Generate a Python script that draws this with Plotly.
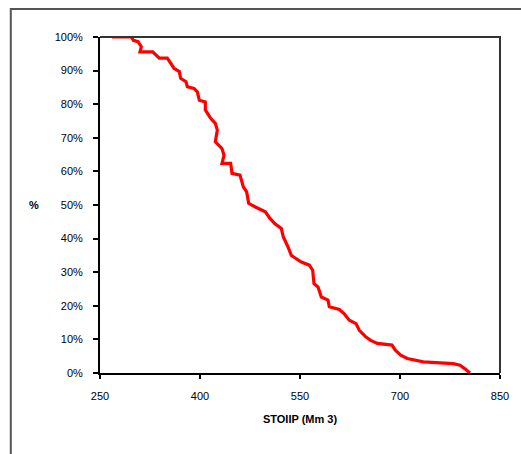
import plotly.graph_objects as go

# STOIIP (Mm3) values and cumulative exceedance probability (%)
stoiip = [268, 297, 300, 307, 312, 310, 329, 334, 339, 351, 356, 361, 369, 371, 379, 381,
          391, 396, 399, 408, 408, 416, 423, 426, 423, 433, 436, 433, 446, 448, 460, 465,
          470, 473, 483, 498, 505, 512, 522, 525, 532, 537, 540, 552, 564, 569, 571, 577,
          582, 592, 594, 609, 616, 624, 634, 639, 649, 656, 666, 688, 693, 701, 711, 725,
          735, 780, 790, 797, 805]
percent = [100, 100, 99, 98.6, 97.1, 95.6, 95.6, 94.6, 93.7, 93.7, 92.2, 90.7, 89.7, 87.7,
           86.7, 85.2, 84.7, 83.7, 81.2, 80.7, 78.3, 75.8, 74.3, 72.3, 68.8, 66.8, 64.8,
           62.4, 62.4, 59.4, 58.9, 55.4, 53.9, 50.5, 49.4, 48, 46, 44.5, 43, 40.5, 37.5,
           35, 34.6, 33, 32.1, 30.6, 26.6, 25.6, 22.6, 21.7, 19.7, 18.9, 17.7, 15.7, 14.7,
           12.7, 10.7, 9.7, 8.8, 8.3, 6.8, 5.3, 4.3, 3.8, 3.3, 2.8, 2.3, 1.3, 0]

x_ticks = [250, 400, 550, 700, 850]
x_tick_labels = ["250", "400", "550", "700", "850"]
y_ticks = [0, 10, 20, 30, 40, 50, 60, 70, 80, 90, 100]
y_tick_labels = [f"{v}%" for v in y_ticks]

FONT = "Liberation Sans, Arial, sans-serif"

fig = go.Figure()
fig.add_trace(go.Scatter(
    x=stoiip, y=percent, mode="lines",
    line=dict(color="#ff0000", width=3.2, shape="linear"),
    showlegend=False, hoverinfo="skip", cliponaxis=True,
))

fig.update_layout(
    width=521, height=454,
    margin=dict(l=100, r=17, t=37, b=81, pad=0),
    paper_bgcolor="white", plot_bgcolor="white",
    font=dict(family=FONT, size=11, color="black"),
    xaxis=dict(
        range=[250, 850], tickvals=x_ticks, ticktext=x_tick_labels,
        showgrid=False, zeroline=False, showline=True, linecolor="black", linewidth=2,
        ticks="outside", ticklen=4, tickwidth=2, tickcolor="black",
        ticklabelstandoff=8,
        tickfont=dict(family=FONT, size=11, color="black"),
        title=dict(text="<b>STOIIP (Mm 3)</b>", standoff=14,
                   font=dict(family=FONT, size=11, color="black")),
    ),
    yaxis=dict(
        range=[0, 100], tickvals=y_ticks, ticktext=y_tick_labels,
        showgrid=False, zeroline=False, showline=True, linecolor="black", linewidth=2,
        ticks="outside", ticklen=5, tickwidth=2, tickcolor="black",
        ticklabelstandoff=8,
        tickfont=dict(family=FONT, size=11, color="black"),
    ),
)

# y-axis title drawn horizontally
fig.add_annotation(text="<b>%</b>", xref="paper", yref="paper", x=-0.165, y=0.5,
                   showarrow=False, xanchor="center", yanchor="middle",
                   font=dict(family=FONT, size=11, color="black"))

# top and right edges of plot area
fig.add_shape(type="path", xref="paper", yref="paper",
              path="M 0,1 L 1,1 L 1,0", line=dict(color="#333333", width=2), layer="above")

# outer chart frame (only left and top edges visible)
fig.add_shape(type="path", xref="paper", yref="paper",
              path="M -0.223,-0.3 L -0.223,1.0834 L 1.1,1.0834",
              line=dict(color="#555555", width=2), layer="below")

fig.write_html(
    "out.html",
    config={"displayModeBar": False},
    post_script="document.body.style.margin='0';document.body.style.overflow='hidden';",
)
